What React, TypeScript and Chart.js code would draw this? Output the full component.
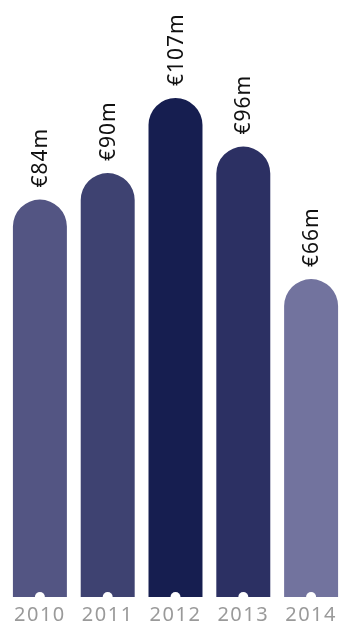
import React, { useEffect, useRef } from 'react';
import { Chart, registerables } from 'chart.js';

Chart.register(...registerables);

const years = ['2010', '2011', '2012', '2013', '2014'];
const revenue = [84, 90, 107, 96, 66];
const valueLabels = ['€84m', '€90m', '€107m', '€96m', '€66m'];
const barColors = ['#535583', '#3e4271', '#161e50', '#2c3063', '#72739e'];

const FONT = '"Noto Sans", sans-serif';

const spacing = {
  id: 'spacing',
  beforeDraw(chart: any) {
    (chart.ctx as any).letterSpacing = '1.5px';
  },
  afterDraw(chart: any) {
    (chart.ctx as any).letterSpacing = '0px';
  },
};

const barDecor = {
  id: 'barDecor',
  afterDatasetsDraw(chart: any) {
    const ctx = chart.ctx;
    const meta = chart.getDatasetMeta(0);
    meta.data.forEach((bar: any, i: number) => {
      // white notch at the bar foot
      ctx.save();
      ctx.fillStyle = '#ffffff';
      ctx.beginPath();
      ctx.arc(bar.x, bar.base, 5, Math.PI, 0);
      ctx.closePath();
      ctx.fill();
      ctx.restore();
      // rotated value label
      ctx.save();
      ctx.translate(bar.x + 7, bar.y - 12);
      ctx.rotate(-Math.PI / 2);
      ctx.font = '21px ' + FONT;
      (ctx as any).letterSpacing = '1px';
      ctx.fillStyle = '#111111';
      ctx.textAlign = 'left';
      ctx.textBaseline = 'alphabetic';
      ctx.fillText(valueLabels[i], 0, 0);
      ctx.restore();
    });
  },
};

export default function App() {
  const ref = useRef<HTMLCanvasElement | null>(null);

  useEffect(() => {
    if (!ref.current) return;
    const chart = new Chart(ref.current, {
      type: 'bar',
      data: {
        labels: years,
        datasets: [
          {
            data: revenue,
            backgroundColor: barColors,
            borderRadius: { topLeft: 27, topRight: 27, bottomLeft: 0, bottomRight: 0 },
            borderSkipped: false,
            base: -6,
            barPercentage: 0.796,
            categoryPercentage: 1,
          } as any,
        ],
      },
      options: {
        animation: false,
        responsive: false,
        maintainAspectRatio: false,
        layout: { padding: { left: 6, right: 0, top: 0, bottom: 0 } },
        plugins: {
          legend: { display: false },
          tooltip: { enabled: false },
        },
        scales: {
          x: {
            grid: { display: false, drawTicks: false },
            border: { display: false },
            ticks: {
              color: '#9a9a9a',
              font: { family: FONT, size: 20 },
              padding: 6,
              maxRotation: 0,
              autoSkip: false,
            },
            afterFit: (scale: any) => {
              scale.height = 27;
            },
          },
          y: {
            display: false,
            min: -6,
            max: 129.2,
          },
        },
      },
      plugins: [spacing, barDecor],
    });
    return () => chart.destroy();
  }, []);

  return (
    <div
      style={{
        position: 'absolute',
        left: 0,
        top: 0,
        width: 343,
        height: 624,
        overflow: 'hidden',
        background: '#ffffff',
      }}
    >
      <canvas ref={ref} width={345} height={624} style={{ display: 'block' }} />
    </div>
  );
}
